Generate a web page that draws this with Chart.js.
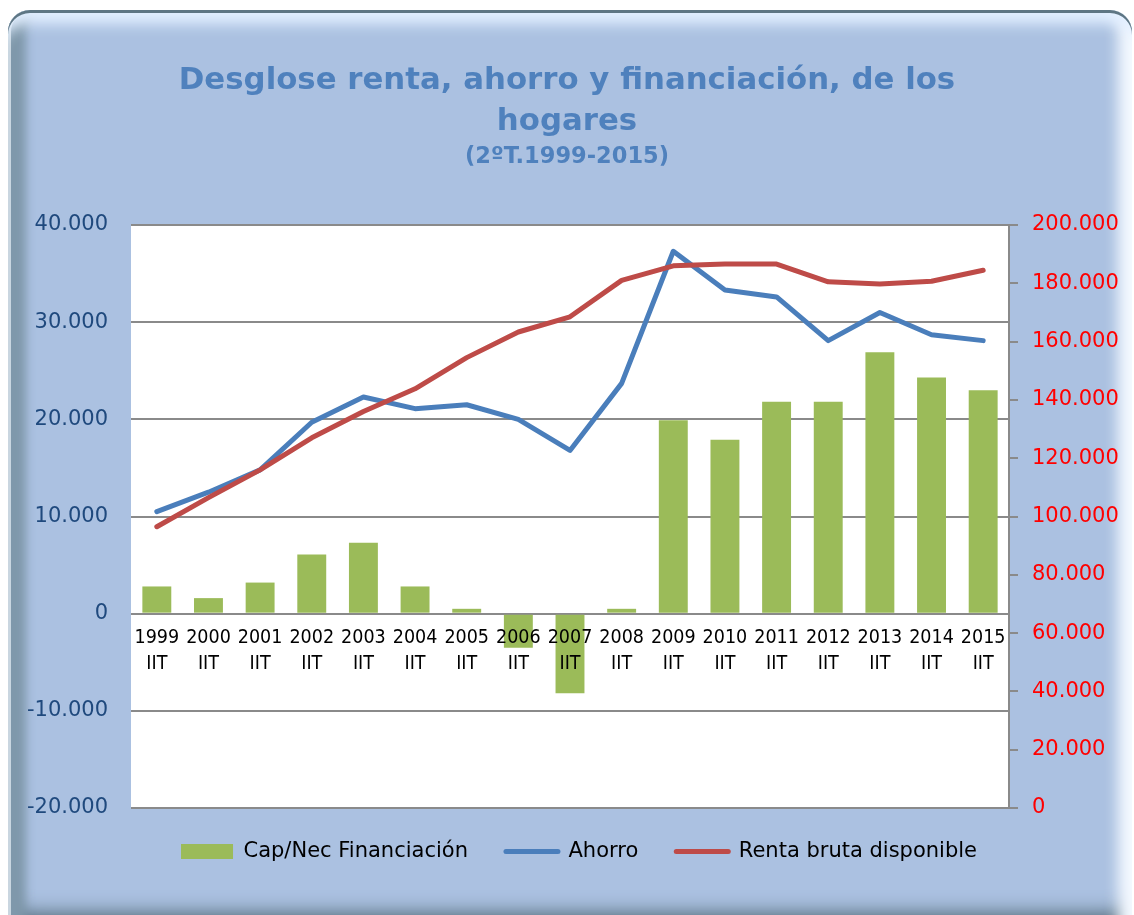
<!DOCTYPE html>
<html>
<head>
<meta charset="utf-8">
<script src="https://cdn.jsdelivr.net/npm/chart.js@4.4.0/dist/chart.umd.min.js"></script>
<style>
  html, body { margin:0; padding:0; background:#ffffff; width:1134px; height:915px; overflow:hidden; }
  .frame {
    position:absolute; left:8px; top:10px; width:1124px; height:930px;
    border-radius:22px; background:#abc1e1;
    box-shadow:
      inset 0 3px 0 #5e7684,
      inset 0 26px 14px -12px #e2efff,
      inset 3px 0 0 #c9d6e0,
      inset 28px 0 10px -10px #7f98ab,
      inset -24px 0 14px -10px #f4f9ff,
      inset 0 -40px 20px -14px #4a626e;
  }
  #wrap { position:absolute; left:0; top:0; width:1134px; height:915px; }
</style>
</head>
<body>
<div class="frame"></div>
<div id="wrap"><canvas id="c" width="1134" height="915"></canvas></div>
<script>
// ---- data ----
const years = ['1999','2000','2001','2002','2003','2004','2005','2006','2007','2008','2009','2010','2011','2012','2013','2014','2015'];
const quarterLabel = 'IIT';
const financiacion = [2800, 1600, 3200, 6100, 7300, 2800, 500, -3500, -8200, 500, 19900, 17900, 21800, 21800, 26900, 24300, 23000];
const ahorro = [10500, 12500, 14800, 19700, 22300, 21100, 21500, 20000, 16800, 23700, 37300, 33300, 32600, 28100, 31000, 28700, 28100];
const renta = [96500, 106500, 116000, 127000, 136000, 143800, 154500, 163300, 168500, 181000, 186000, 186600, 186600, 180500, 179800, 180700, 184500];
const leftTicks = [-20000, -10000, 0, 10000, 20000, 30000, 40000];
const rightTicks = [0, 20000, 40000, 60000, 80000, 100000, 120000, 140000, 160000, 180000, 200000];
const seriesNames = ['Cap/Nec Financiación', 'Ahorro', 'Renta bruta disponible'];
const titleLines = ['Desglose renta, ahorro y financiación, de los', 'hogares'];
const subtitleText = '(2ºT.1999-2015)';

const categories = years.map(y => [y, quarterLabel]);

function fmt(v) {
  const neg = v < 0;
  let s = String(Math.abs(Math.round(v)));
  s = s.replace(/\B(?=(\d{3})+(?!\d))/g, '.');
  return (neg ? '-' : '') + s;
}

const FONT_C = "'DejaVu Sans Condensed', 'DejaVu Sans', sans-serif";
const FONT = "'DejaVu Sans', sans-serif";
const GREEN = '#9bbb59', BLUE = '#4a7ebb', RED = '#be4b48', GRID = '#8a8a8a';

const plotBg = {
  id: 'plotBg',
  beforeDraw(chart) {
    const a = chart.chartArea, ctx = chart.ctx;
    ctx.save();
    ctx.fillStyle = '#ffffff';
    ctx.fillRect(a.left, a.top, a.right - a.left, a.bottom - a.top);
    ctx.restore();
  }
};

// nudge the legend to sit where the reference has it
const legendNudge = {
  id: 'legendNudge',
  afterLayout(chart) {
    const lg = chart.legend;
    if (!lg) return;
    lg.left += 9; lg.right += 9;
    lg.top -= 5; lg.bottom -= 5;
  }
};

new Chart(document.getElementById('c'), {
  data: {
    labels: categories,
    datasets: [
      { type: 'bar', label: seriesNames[0], data: financiacion, backgroundColor: GREEN,
        yAxisID: 'y', order: 3, barPercentage: 0.56, categoryPercentage: 1.0 },
      { type: 'line', label: seriesNames[1], data: ahorro, borderColor: BLUE, backgroundColor: BLUE,
        borderWidth: 5, pointRadius: 0, tension: 0, borderCapStyle: 'round', borderJoinStyle: 'round',
        yAxisID: 'y', order: 2 },
      { type: 'line', label: seriesNames[2], data: renta, borderColor: RED, backgroundColor: RED,
        borderWidth: 5, pointRadius: 0, tension: 0, borderCapStyle: 'round', borderJoinStyle: 'round',
        yAxisID: 'y1', order: 1 }
    ]
  },
  options: {
    responsive: false,
    animation: false,
    layout: { padding: { top: 0, bottom: 38, left: 0, right: 0 } },
    plugins: {
      title: {
        display: true, text: titleLines, color: '#4f81bd',
        font: { family: FONT, size: 30.8, weight: 'bold', lineHeight: '41px' },
        padding: { top: 60, bottom: 0 }
      },
      subtitle: {
        display: true, text: subtitleText, color: '#4f81bd',
        font: { family: FONT, size: 22.5, weight: 'bold', lineHeight: '26px' },
        padding: { top: 2, bottom: 55 }
      },
      legend: {
        position: 'bottom', fullSize: false,
        labels: {
          color: '#000000', font: { family: FONT, size: 21 },
          padding: 38, usePointStyle: true, pointStyleWidth: 52, boxHeight: 15,
          generateLabels(chart) {
            return chart.data.datasets.map((ds, i) => ({
              text: ds.label,
              datasetIndex: i,
              fillStyle: ds.type === 'bar' ? GREEN : ds.borderColor,
              strokeStyle: ds.type === 'bar' ? GREEN : ds.borderColor,
              lineWidth: ds.type === 'bar' ? 0 : 5,
              lineCap: 'round',
              pointStyle: ds.type === 'bar' ? 'rect' : 'line',
              hidden: false,
              fontColor: '#000000'
            }));
          }
        }
      },
      tooltip: { enabled: false }
    },
    scales: {
      x: {
        type: 'category', position: { y: 0 },
        grid: { display: false, drawTicks: false },
        border: { display: false },
        ticks: { z: 1, color: '#000000', font: { family: FONT_C, size: 19.5, lineHeight: 1.33 },
                 padding: 11, maxRotation: 0, autoSkip: false }
      },
      y: {
        type: 'linear', position: 'left', min: -20000, max: 40000,
        afterBuildTicks(axis) { axis.ticks = leftTicks.map(v => ({ value: v })); },
        afterFit(axis) { axis.width = 131; },
        grid: { color: GRID, lineWidth: 2, drawTicks: false },
        border: { display: false },
        ticks: { color: '#1f497d', font: { family: FONT, size: 21 }, padding: 23,
                 callback: v => fmt(v) }
      },
      y1: {
        type: 'linear', position: 'right', min: 0, max: 200000,
        afterBuildTicks(axis) { axis.ticks = rightTicks.map(v => ({ value: v })); },
        afterFit(axis) { axis.width = 125; },
        grid: { drawOnChartArea: false, drawTicks: true, tickLength: 9, color: GRID, tickColor: GRID, lineWidth: 2 },
        border: { display: true, color: GRID, width: 2 },
        ticks: { color: '#ff0000', font: { family: FONT, size: 21 }, padding: 14,
                 callback: v => fmt(v) }
      }
    }
  },
  plugins: [plotBg, legendNudge]
});
</script>
</body>
</html>
